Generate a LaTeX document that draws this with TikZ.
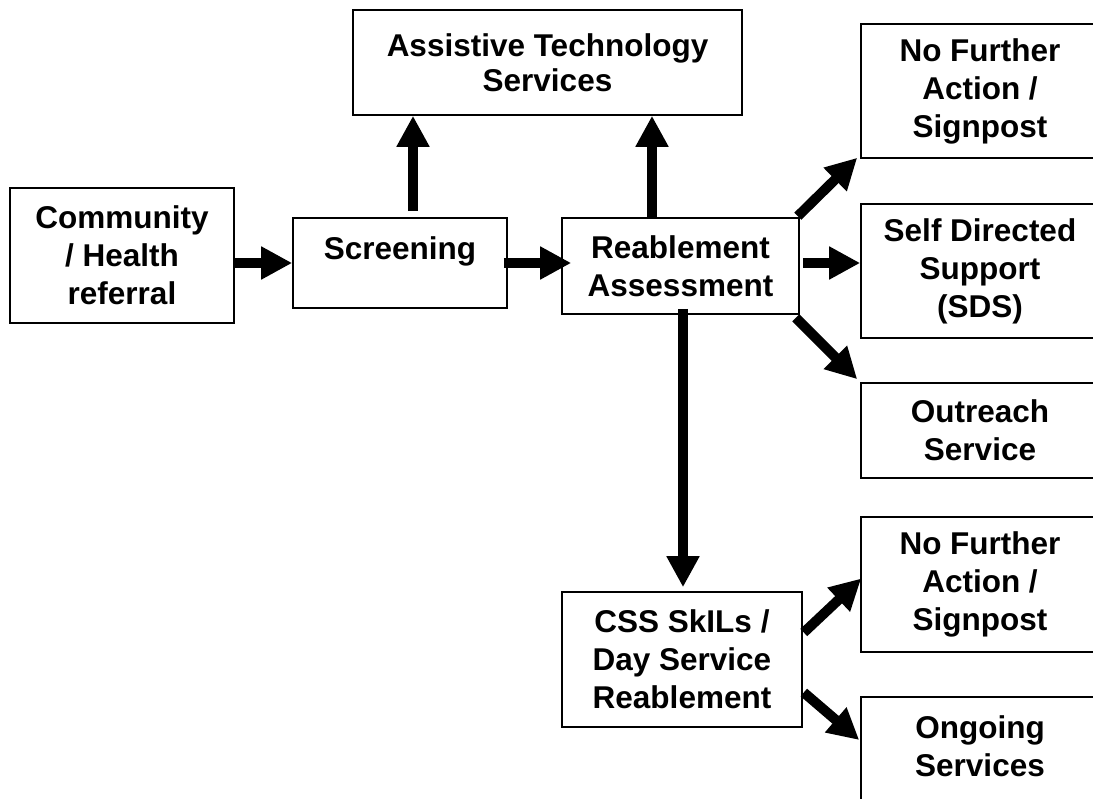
\documentclass[tikz,border=0pt]{standalone}
\usepackage{fontspec}
\setmainfont{Liberation Sans}
\usetikzlibrary{arrows.meta,calc}
\begin{document}
\begin{tikzpicture}[x=1pt,y=-1pt,
  box/.style={draw=black,line width=1.6pt,fill=white,align=center,inner sep=0pt,
    font=\fontsize{31.5}{38}\selectfont\bfseries},
  arr/.style={line width=10pt,-{Triangle[length=31pt,width=31pt]}}]
\useasboundingbox (0,0) rectangle (1093,799);
\clip (0,0) rectangle (1093,799);
% boxes
\node[box,minimum width=224pt,minimum height=135pt] (com) at (122,255.5) {Community\\/ Health\\referral};
\node[box,minimum width=214pt,minimum height=90pt,text height=23pt,text depth=29pt] (scr) at (400,263) {Screening};
\node[box,minimum width=389pt,minimum height=105pt,font=\fontsize{31.5}{35}\selectfont\bfseries] (ats) at (547.5,62.5) {Assistive Technology\\Services};
\node[box,minimum width=237pt,minimum height=96pt] (rea) at (680.5,266) {Reablement\\Assessment};
\node[box,minimum width=240pt,minimum height=135pt] (css) at (682,659.5) {CSS SkILs /\\Day Service\\Reablement};
\node[box,minimum width=238pt,minimum height=134pt] (nfa1) at (980,91) {No Further\\Action /\\Signpost};
\node[box,minimum width=238pt,minimum height=134pt] (sds) at (980,271) {Self Directed\\Support\\(SDS)};
\node[box,minimum width=238pt,minimum height=95pt] (out) at (980,430.5) {Outreach\\Service};
\node[box,minimum width=238pt,minimum height=135pt] (nfa2) at (980,584.5) {No Further\\Action /\\Signpost};
\node[box,minimum width=238pt,minimum height=110pt,text height=61pt,text depth=13pt] (ong) at (980,752) {Ongoing\\Services};
% connector end points
\coordinate (s1) at ($(scr.east)+(-4,0)$);
\coordinate (e1) at ($(rea.west)+(10,0)$);
\coordinate (s2) at ($(scr.north)+(13,-6)$);
\coordinate (s3) at ($(rea.north)+(-28.5,0)$);
\coordinate (s4) at ($(rea.south)+(2.5,-6)$);
\coordinate (s5) at ($(rea.east)+(3,-3)$);
% connectors
\draw[arr] (com.east |- scr.west) -- (scr.west);
\draw[arr] (s1) -- (s1 -| e1);
\draw[arr] (s2) -- (s2 |- ats.south);
\draw[arr] (s3) -- (s3 |- ats.south);
\draw[arr] (s4) -- ($(css.north)+(1,-4)$);
\draw[arr] ($(rea.north east)+(-2,-1)$) -- ($(nfa1.south west)+(-3,-1)$);
\draw[arr] (s5) -- (s5 -| sds.west);
\draw[arr] ($(rea.south east)+(-4,3)$) -- ($(out.north west)+(-3,-3)$);
\draw[arr] ($(css.east)+(1,-27)$) -- ($(nfa2.west)+(1,-6)$);
\draw[arr] ($(css.east)+(1,33)$) -- ($(ong.west)+(-1,-12)$);
\end{tikzpicture}
\end{document}
